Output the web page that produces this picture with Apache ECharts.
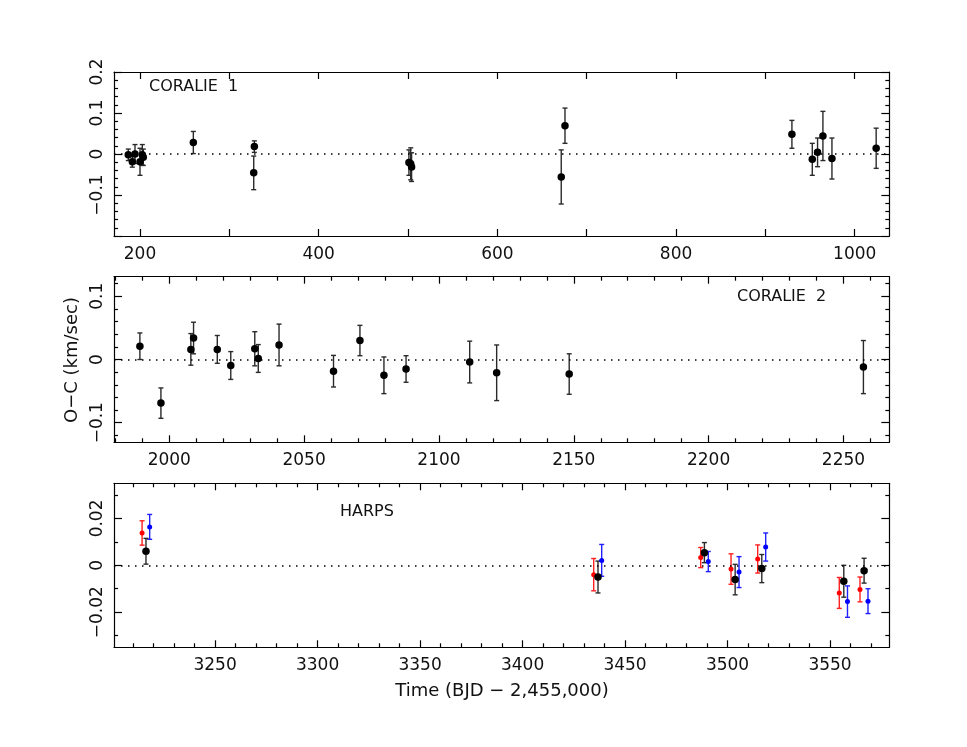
<!DOCTYPE html>
<html>
<head>
<meta charset="utf-8">
<script src="https://cdn.jsdelivr.net/npm/echarts@6/dist/echarts.min.js"></script>
<style>html,body{margin:0;padding:0;background:#fff}#chart{width:967px;height:747px}</style>
</head>
<body>
<div id="chart"></div>
<script>
// ---------- DATA ----------
// CORALIE 1 residuals (time, O-C km/s, error)
const c1T = [186.9, 191.4, 194.4, 200.0, 202.6, 203.7, 259.7, 328.0, 327.3, 501, 503, 504, 671.5, 675.7, 929.7, 952.5, 958.4, 964.4, 974.5, 1024];
const c1V = [-0.002, -0.019, 0.000, -0.019, -0.002, -0.008, 0.028, 0.018, -0.046, -0.021, -0.024, -0.032, -0.056, 0.069, 0.048, -0.013, 0.004, 0.044, -0.011, 0.014];
const c1E = [0.014, 0.013, 0.023, 0.033, 0.025, 0.020, 0.027, 0.014, 0.041, 0.031, 0.039, 0.035, 0.066, 0.043, 0.034, 0.039, 0.035, 0.060, 0.050, 0.049];
// CORALIE 2
const c2T = [1989.1, 1996.9, 2008.0, 2009.0, 2017.8, 2022.8, 2031.7, 2033.0, 2040.7, 2060.9, 2070.7, 2079.6, 2087.8, 2111.4, 2121.4, 2148.3, 2257.4];
const c2V = [0.021, -0.069, 0.016, 0.034, 0.016, -0.0095, 0.017, 0.0016, 0.023, -0.0185, 0.030, -0.025, -0.015, -0.004, -0.021, -0.023, -0.012];
const c2E = [0.021, 0.024, 0.025, 0.025, 0.022, 0.022, 0.027, 0.022, 0.033, 0.025, 0.024, 0.029, 0.021, 0.033, 0.044, 0.032, 0.042];
// HARPS (three groups: red, black, blue)
const hRedT = [3214.4, 3434.7, 3486.9, 3501.7, 3514.7, 3554.5, 3564.6];
const hRedV = [0.0138, -0.0040, 0.0033, -0.0016, 0.0027, -0.0118, -0.0103];
const hRedE = [0.0052, 0.0069, 0.0043, 0.0065, 0.0060, 0.0066, 0.0053];
const hBlkT = [3216.3, 3436.8, 3488.7, 3503.7, 3516.7, 3556.7, 3566.6];
const hBlkV = [0.0060, -0.0050, 0.0054, -0.0061, -0.0014, -0.0068, -0.0023];
const hBlkE = [0.0055, 0.0068, 0.0043, 0.0065, 0.0060, 0.0068, 0.0053];
const hBluT = [3218.1, 3438.6, 3490.6, 3505.6, 3518.6, 3558.5, 3568.5];
const hBluV = [0.0164, 0.0021, 0.0016, -0.0029, 0.0078, -0.0155, -0.0153];
const hBluE = [0.0053, 0.0068, 0.0043, 0.0066, 0.0060, 0.0067, 0.0053];

// tick labels
const p1XLabels = [200, 400, 600, 800, 1000];
const p1YLabels = [-0.1, 0, 0.1, 0.2];
const p2XLabels = [2000, 2050, 2100, 2150, 2200, 2250];
const p2YLabels = [-0.1, 0, 0.1];
const p3XLabels = [3250, 3300, 3350, 3400, 3450, 3500, 3550];
const p3YLabels = [-0.02, 0, 0.02];

// tick positions
const p1XMajor = [200, 300, 400, 500, 600, 700, 800, 900, 1000];
const p1XMinor = [];
const p1YMajor = [-0.2, -0.1, 0, 0.1, 0.2];
const p1YMinor = [-0.18, -0.16, -0.14, -0.12, -0.08, -0.06, -0.04, -0.02, 0.02, 0.04, 0.06, 0.08, 0.12, 0.14, 0.16, 0.18];
const p2XMajor = [2000, 2050, 2100, 2150, 2200, 2250];
const p2XMinor = [1980, 1990, 2010, 2020, 2030, 2040, 2060, 2070, 2080, 2090, 2110, 2120, 2130, 2140, 2160, 2170, 2180, 2190, 2210, 2220, 2230, 2240, 2260];
const p2YMajor = [-0.1, 0, 0.1];
const p2YMinor = [-0.12, -0.08, -0.06, -0.04, -0.02, 0.02, 0.04, 0.06, 0.08, 0.12];
const p3XMajor = [3250, 3300, 3350, 3400, 3450, 3500, 3550];
const p3XMinor = [3210, 3220, 3230, 3240, 3260, 3270, 3280, 3290, 3310, 3320, 3330, 3340, 3360, 3370, 3380, 3390, 3410, 3420, 3430, 3440, 3460, 3470, 3480, 3490, 3510, 3520, 3530, 3540, 3560, 3570];
const p3YMajor = [-0.02, 0, 0.02];
const p3YMinor = [-0.03, -0.01, 0.01, 0.03];

// ---------- STYLE / LAYOUT ----------
const FONT = 'DejaVu Sans';
const FS = 16;
const grids = [
  {left: 114, right: 77.7, top: 72, height: 164},
  {left: 114, right: 77.7, top: 276.7, height: 165.6},
  {left: 114, right: 77.7, top: 483.3, height: 164}
];
const ranges = [
  {x: [170.9, 1038.7], y: [-0.2, 0.2]},
  {x: [1979.5, 2267], y: [-0.131, 0.131]},
  {x: [3200.7, 3578.9], y: [-0.035, 0.035]}
];

function fmt(v) {
  const r = parseFloat(Math.abs(v).toFixed(4));
  if (r === 0) return '0';
  return (v < 0 ? '\u2212' : '') + r;
}

const xAxes = [], yAxes = [];
function lineSt() { return {color: '#000', width: 1.2}; }
function addAxes(gi, xMaj, xMin, xLab, yMaj, yMin, yLab) {
  const r = ranges[gi];
  const xMain = xAxes.length;
  const base = (pos, ticks, len, showLine, labels) => ({
    type: 'value', gridIndex: gi, min: r.x[0], max: r.x[1], position: pos,
    axisLine: {show: showLine, onZero: false, lineStyle: lineSt()},
    axisTick: {show: ticks.length > 0, inside: true, length: len, customValues: ticks, lineStyle: lineSt()},
    axisLabel: labels ? {show: true, customValues: labels, formatter: fmt, margin: 10, fontFamily: FONT, fontSize: FS + 1, color: '#111'} : {show: false},
    splitLine: {show: false}
  });
  xAxes.push(base('bottom', xMaj, 7, true, xLab));
  xAxes.push(base('bottom', xMin, 4, false, null));
  xAxes.push(base('top', xMaj, 7, true, null));
  xAxes.push(base('top', xMin, 4, false, null));
  const yMain = yAxes.length;
  const ybase = (pos, ticks, len, showLine, labels) => ({
    type: 'value', gridIndex: gi, min: r.y[0], max: r.y[1], position: pos,
    axisLine: {show: showLine, onZero: false, lineStyle: lineSt()},
    axisTick: {show: ticks.length > 0, inside: true, length: len, customValues: ticks, lineStyle: lineSt()},
    axisLabel: labels ? {show: true, customValues: labels, formatter: fmt, margin: 8, rotate: 90, align: 'center', verticalAlign: 'bottom', fontFamily: FONT, fontSize: FS + 1, color: '#111'} : {show: false},
    splitLine: {show: false}
  });
  yAxes.push(ybase('left', yMaj, 8, true, yLab));
  yAxes.push(ybase('left', yMin, 4, false, null));
  yAxes.push(ybase('right', yMaj, 8, true, null));
  yAxes.push(ybase('right', yMin, 4, false, null));
  return {x: xMain, y: yMain};
}
const ax1 = addAxes(0, p1XMajor, p1XMinor, p1XLabels, p1YMajor, p1YMinor, p1YLabels);
const ax2 = addAxes(1, p2XMajor, p2XMinor, p2XLabels, p2YMajor, p2YMinor, p2YLabels);
const ax3 = addAxes(2, p3XMajor, p3XMinor, p3XLabels, p3YMajor, p3YMinor, p3YLabels);

function rows(T, V, E) { return T.map((t, i) => [t, V[i], E[i]]); }

function errSeries(ax, T, V, E, color, cap, width) {
  return {
    type: 'custom', xAxisIndex: ax.x, yAxisIndex: ax.y, silent: true, z: 2,
    encode: {x: 0, y: 1},
    data: rows(T, V, E),
    renderItem: function (params, api) {
      const x = api.value(0), y = api.value(1), e = api.value(2);
      const lo = api.coord([x, y - e]), hi = api.coord([x, y + e]);
      const st = {stroke: color, lineWidth: width, fill: null};
      return {type: 'group', children: [
        {type: 'line', shape: {x1: lo[0], y1: lo[1], x2: hi[0], y2: hi[1]}, style: st},
        {type: 'line', shape: {x1: lo[0] - cap, y1: lo[1], x2: lo[0] + cap, y2: lo[1]}, style: st},
        {type: 'line', shape: {x1: hi[0] - cap, y1: hi[1], x2: hi[0] + cap, y2: hi[1]}, style: st}
      ]};
    }
  };
}
function ptSeries(ax, T, V, color, size, zero) {
  const s = {
    type: 'scatter', xAxisIndex: ax.x, yAxisIndex: ax.y, z: 3, silent: true,
    symbol: 'circle', symbolSize: size, itemStyle: {color: color, opacity: 1},
    data: T.map((t, i) => [t, V[i]])
  };
  if (zero) {
    s.markLine = {silent: true, symbol: 'none', label: {show: false}, animation: false,
      lineStyle: {color: '#000', type: [1.5, 5.5], width: 1.5}, data: [{yAxis: 0}]};
  }
  return s;
}

const series = [
  errSeries(ax1, c1T, c1V, c1E, '#2a2a2a', 2.5, 1.4),
  ptSeries(ax1, c1T, c1V, '#000', 7.5, true),
  errSeries(ax2, c2T, c2V, c2E, '#2a2a2a', 2.5, 1.4),
  ptSeries(ax2, c2T, c2V, '#000', 7.5, true),
  errSeries(ax3, hRedT, hRedV, hRedE, '#ff2020', 2.5, 1.4),
  errSeries(ax3, hBluT, hBluV, hBluE, '#2020ff', 2.5, 1.4),
  errSeries(ax3, hBlkT, hBlkV, hBlkE, '#2a2a2a', 2.5, 1.4),
  ptSeries(ax3, hRedT, hRedV, '#ff0000', 5, false),
  ptSeries(ax3, hBluT, hBluV, '#0000ff', 5, false),
  ptSeries(ax3, hBlkT, hBlkV, '#000', 7.5, true)
];

const txt = (x, y, s, extra) => Object.assign({
  type: 'text', x: x, y: y, silent: true,
  style: {text: s, fontFamily: FONT, fontSize: FS, fill: '#111', align: 'left', verticalAlign: 'middle'}
}, extra || {});

const chart = echarts.init(document.getElementById('chart'), null, {renderer: 'canvas'});
chart.setOption({
  animation: false,
  backgroundColor: '#fff',
  grid: grids,
  xAxis: xAxes,
  yAxis: yAxes,
  series: series,
  graphic: [
    txt(149, 87, 'CORALIE  1'),
    txt(737, 297, 'CORALIE  2'),
    txt(340, 512, 'HARPS'),
    {type: 'text', x: 502, y: 691, silent: true,
     style: {text: 'Time (BJD \u2212 2,455,000)', fontFamily: FONT, fontSize: 18, fill: '#111', align: 'center', verticalAlign: 'middle'}},
    {type: 'text', x: 72, y: 360, rotation: Math.PI / 2, silent: true,
     style: {text: 'O\u2212C (km/sec)', fontFamily: FONT, fontSize: 18, fill: '#111', align: 'center', verticalAlign: 'middle'}}
  ]
});
</script>
</body>
</html>
